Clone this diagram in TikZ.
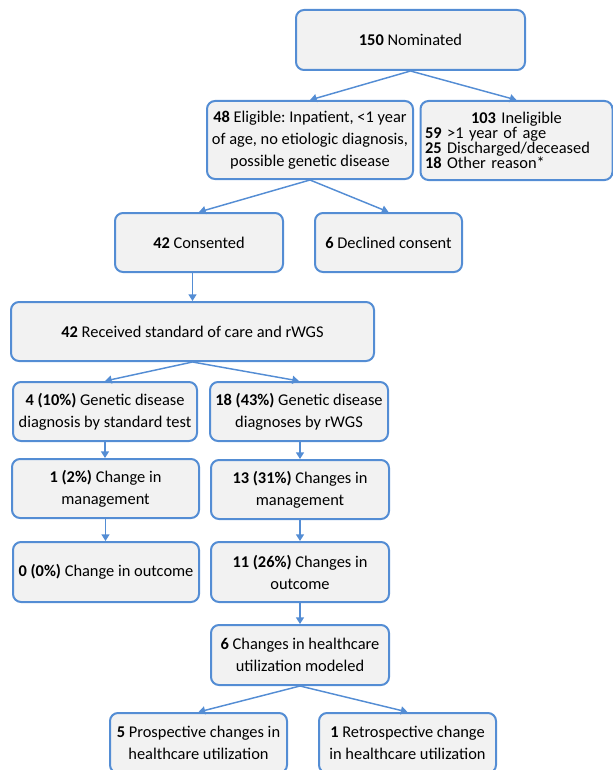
\documentclass[tikz,border=0pt]{standalone}
\usepackage{fontspec}
\setmainfont{Carlito}
\usetikzlibrary{arrows.meta}
\definecolor{azul}{RGB}{84,141,212}
\definecolor{cinza}{RGB}{242,242,242}
\frenchspacing
\begin{document}
\begin{tikzpicture}[
		  x=0.75pt, y=-0.75pt,
		  every node/.style={font=\fontsize{12.3}{16.5}\selectfont}
		]

		\tikzset{
		    caixa/.style={draw=azul, fill=cinza, line width=1.5pt, rounded corners=6pt, align=center, inner sep=1pt},
		    tam/.style 2 args={minimum width=#1*0.75pt, minimum height=#2*0.75pt},
		    seta/.style={draw=azul, line width=1.1pt, -{Triangle[length=5pt, width=6pt]}}
		}

		\useasboundingbox (0,0) rectangle (613,770);

		% Triagem
		\node[caixa, tam={229}{60}] (nom) at (410.5,40) {\textbf{150} Nominated};
		\node[caixa, tam={206}{78}] (eleg) at (310,140) {\textbf{48} Eligible: Inpatient, <1 year\\ of age, no etiologic diagnosis,\\ possible genetic disease};
		\node[caixa, tam={192}{79}, text width=183*0.75pt, align=left, font=\fontsize{12.3}{11.4}\selectfont] (ineleg) at (516.5,140.5)
		  {{\centering\textbf{103} Ineligible\par}\raggedright\textbf{59} >1 year of age\par \textbf{25} Discharged/deceased\par \textbf{18} Other reason*};

		% Consentimento
		\node[caixa, tam={168}{59}] (cons) at (199,242.5) {\textbf{42} Consented};
		\node[caixa, tam={147}{59}] (recus) at (388.5,242.5) {\textbf{6} Declined consent};
		\node[caixa, tam={363}{59}] (receb) at (192.5,331.5) {\textbf{42} Received standard of care and rWGS};

		% Diagnostico
		\node[caixa, tam={184}{59}] (padrao) at (105,411.5) {\textbf{4 (10\%)} Genetic disease\\ diagnosis by standard test};
		\node[caixa, tam={178}{59}] (rwgs) at (299,411.5) {\textbf{18 (43\%)} Genetic disease\\ diagnoses by rWGS};

		% Manejo e desfecho
		\node[caixa, tam={187}{59}] (manejo1) at (105.5,488.5) {\textbf{1 (2\%)} Change in\\ management};
		\node[caixa, tam={178}{59}] (manejo2) at (300,489.5) {\textbf{13 (31\%)} Changes in\\ management};
		\node[caixa, tam={186}{60}] (desf1) at (106,572) {\textbf{0 (0\%)} Change in outcome};
		\node[caixa, tam={178}{60}] (desf2) at (300,572) {\textbf{11 (26\%)} Changes in\\ outcome};

		% Utilizacao
		\node[caixa, tam={178}{60}] (util) at (300,655) {\textbf{6} Changes in healthcare\\ utilization modeled};
		\node[caixa, tam={177}{60}] (prosp) at (198.5,743) {\textbf{5} Prospective changes in\\ healthcare utilization};
		\node[caixa, tam={177}{60}] (retro) at (407.5,743) {\textbf{1} Retrospective change\\ in healthcare utilization};

		% setas
		\draw[seta] (nom.south) -- (eleg.north);
		\draw[seta] (nom.south) -- (ineleg.north);
		\draw[seta] (eleg.south) -- (cons.north);
		\draw[seta] (eleg.south) -- (recus.north);
		\draw[seta] (receb.north |- cons.south) -- (receb.north);
		\draw[seta] (receb.south) -- (padrao.north);
		\draw[seta] (receb.south) -- (rwgs.north);
		\draw[seta] (padrao.south) -- (padrao.south |- manejo1.north);
		\draw[seta] (manejo2.north |- rwgs.south) -- (manejo2.north);
		\draw[seta] (manejo1.south) -- (manejo1.south |- desf1.north);
		\draw[seta] (manejo2.south) -- (desf2.north);
		\draw[seta] (desf2.south) -- (util.north);
		\draw[seta] (util.south) -- (prosp.north);
		\draw[seta] (util.south) -- (retro.north);

		\end{tikzpicture}
\end{document}
